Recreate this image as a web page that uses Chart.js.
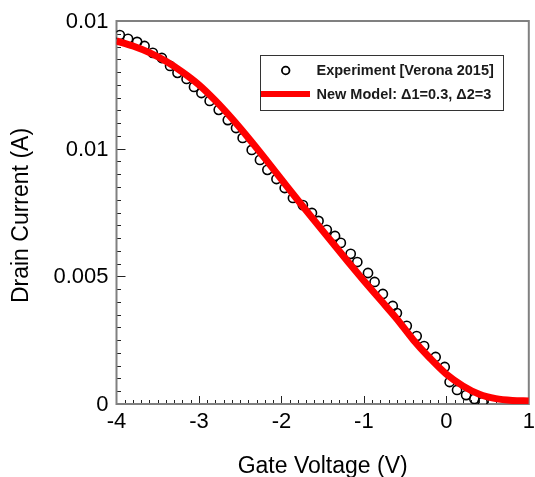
<!DOCTYPE html>
<html>
<head>
<meta charset="utf-8">
<title>Drain Current vs Gate Voltage</title>
<script src="https://cdn.jsdelivr.net/npm/chart.js@4"></script>
<style>
  html, body { margin: 0; padding: 0; background: #ffffff; }
  #wrap { width: 535px; height: 477px; }
</style>
</head>
<body>
<div id="wrap"><canvas id="chart" width="535" height="477"></canvas></div>
<script>
// Measured transfer characteristic (Verona 2015): gate voltage in V, drain current in A
const expGateVoltage = [
  -3.96, -3.86, -3.75, -3.66, -3.56, -3.45, -3.35, -3.26, -3.15, -3.06,
  -2.97, -2.87, -2.76, -2.65, -2.55, -2.47, -2.36, -2.26, -2.17, -2.06,
  -1.96, -1.86, -1.74, -1.63, -1.55, -1.45, -1.35, -1.28, -1.16, -1.08,
  -0.95, -0.87, -0.77, -0.65, -0.60, -0.48, -0.36, -0.27, -0.13, -0.02,
   0.04,  0.13,  0.24,  0.34,  0.44
];
const expDrainCurrent = [
  0.01445, 0.01430, 0.01418, 0.01402, 0.01375, 0.01355, 0.01324, 0.01297, 0.01273, 0.01242,
  0.01218, 0.01187, 0.01152, 0.01112, 0.01081, 0.01042, 0.00995, 0.00956, 0.00917, 0.00881,
  0.00846, 0.00807, 0.00779, 0.00748, 0.00717, 0.00682, 0.00658, 0.00631, 0.00588, 0.00556,
  0.00513, 0.00478, 0.00431, 0.00384, 0.00356, 0.00306, 0.00266, 0.00227, 0.00184, 0.00145,
  0.00086, 0.00055, 0.00035, 0.00020, 0.00008
];

// Model curve (Δ1 = 0.3, Δ2 = 3)
const modelGateVoltage = [
  -4.0, -3.8, -3.6, -3.4, -3.2, -3.0, -2.8, -2.6, -2.4, -2.2,
  -2.0, -1.8, -1.6, -1.4, -1.2, -1.0, -0.8, -0.6, -0.4, -0.2,
   0.0,  0.2,  0.4,  0.6,  0.8,  1.0
];
const modelDrainCurrent = [
  0.01422, 0.01402, 0.01376, 0.01342, 0.01300, 0.01250, 0.01188, 0.01118, 0.01042, 0.00962,
  0.00880, 0.00798, 0.00718, 0.00639, 0.00560, 0.00483, 0.00408, 0.00333, 0.00251, 0.00180,
  0.00117, 0.00071, 0.00038, 0.00021, 0.00014, 0.00012
];

// Axis ticks and their printed labels
const xTickValues = [-4, -3, -2, -1, 0, 1];
const xTickLabels = ['-4', '-3', '-2', '-1', '0', '1'];
const yTickValues = [0, 0.005, 0.01, 0.015];
const yTickLabels = ['0', '0.005', '0.01', '0.01'];

const xTitle = 'Gate Voltage (V)';
const yTitle = 'Drain Current (A)';
const legendExp = 'Experiment [Verona 2015]';
const legendModel = 'New Model: \u03941=0.3, \u03942=3';

const FONT = '"Liberation Sans", Arial, Helvetica, sans-serif';

const toPoints = (xs, ys) => xs.map((x, i) => ({ x: x, y: ys[i] }));

// Frame, inward ticks, tick labels, axis titles and legend
const axesPlugin = {
  id: 'framedAxes',
  beforeDatasetsDraw(chart) {
    const { ctx, chartArea: a, scales: { x, y } } = chart;
    ctx.save();
    // minor + major ticks pointing into the plot
    ctx.strokeStyle = '#222';
    ctx.lineWidth = 1;
    ctx.beginPath();
    for (let k = 1; k < 50; k++) {
      const v = -4 + k * 0.1;
      const px = Math.round(x.getPixelForValue(v)) + 0.5;
      const len = (k % 10 === 0) ? 8 : 4;
      ctx.moveTo(px, a.bottom);
      ctx.lineTo(px, a.bottom - len);
    }
    for (let k = 1; k < 30; k++) {
      const v = k * 0.0005;
      const py = Math.round(y.getPixelForValue(v)) + 0.5;
      const len = (k % 10 === 0) ? 9 : 4.5;
      ctx.moveTo(a.left, py);
      ctx.lineTo(a.left + len, py);
    }
    ctx.stroke();
    // plot frame
    ctx.strokeStyle = '#808080';
    ctx.lineWidth = 2;
    ctx.strokeRect(a.left, a.top, a.right - a.left, a.bottom - a.top);
    ctx.restore();
  },
  afterDraw(chart) {
    const { ctx, chartArea: a, scales: { x, y } } = chart;
    ctx.save();
    ctx.fillStyle = '#000';
    ctx.font = '22px ' + FONT;
    // x tick labels
    ctx.textAlign = 'center';
    ctx.textBaseline = 'alphabetic';
    xTickValues.forEach((v, i) => {
      ctx.fillText(xTickLabels[i], x.getPixelForValue(v), 428);
    });
    // y tick labels
    ctx.textAlign = 'right';
    ctx.textBaseline = 'middle';
    yTickValues.forEach((v, i) => {
      ctx.fillText(yTickLabels[i], a.left - 8, y.getPixelForValue(v) + 1);
    });
    // axis titles
    ctx.font = '23px ' + FONT;
    ctx.textAlign = 'center';
    ctx.textBaseline = 'alphabetic';
    ctx.fillText(xTitle, (a.left + a.right) / 2, 473);
    ctx.save();
    ctx.translate(28, (a.top + a.bottom) / 2 + 3);
    ctx.rotate(-Math.PI / 2);
    ctx.fillText(yTitle, 0, 0);
    ctx.restore();

    // legend box
    const bx = 260, by = 55, bw = 243, bh = 55;
    ctx.fillStyle = '#fff';
    ctx.fillRect(bx, by, bw, bh);
    ctx.strokeStyle = '#333';
    ctx.lineWidth = 1;
    ctx.strokeRect(bx + 0.5, by + 0.5, bw, bh);
    // experiment marker
    ctx.strokeStyle = '#000';
    ctx.lineWidth = 1.8;
    ctx.beginPath();
    ctx.arc(285.7, 70.5, 3.8, 0, Math.PI * 2);
    ctx.stroke();
    // model line sample
    ctx.strokeStyle = '#ff0000';
    ctx.lineWidth = 6;
    ctx.beginPath();
    ctx.moveTo(261, 94);
    ctx.lineTo(310, 94);
    ctx.stroke();
    ctx.fillStyle = '#1a1a1a';
    ctx.font = 'bold 14.5px ' + FONT;
    ctx.textAlign = 'left';
    ctx.textBaseline = 'middle';
    ctx.fillText(legendExp, 316.5, 70.5);
    ctx.fillText(legendModel, 316.5, 94.5);
    ctx.restore();
  }
};

new Chart(document.getElementById('chart'), {
  type: 'scatter',
  data: {
    datasets: [
      {
        label: legendModel,
        data: toPoints(modelGateVoltage, modelDrainCurrent),
        showLine: true,
        borderColor: '#ff0000',
        backgroundColor: '#ff0000',
        borderWidth: 7,
        pointRadius: 0,
        cubicInterpolationMode: 'monotone',
        order: 0
      },
      {
        label: legendExp,
        data: toPoints(expGateVoltage, expDrainCurrent),
        showLine: false,
        pointStyle: 'circle',
        pointRadius: 4.6,
        pointBorderWidth: 1.6,
        pointBorderColor: '#000',
        pointBackgroundColor: 'rgba(0,0,0,0)',
        order: 1
      }
    ]
  },
  options: {
    responsive: false,
    devicePixelRatio: 1,
    animation: false,
    layout: { padding: { left: 0, top: 21, right: 5.5, bottom: 0 } },
    plugins: {
      legend: { display: false },
      tooltip: { enabled: false }
    },
    scales: {
      x: {
        type: 'linear',
        min: -4,
        max: 1,
        ticks: { display: false },
        grid: { display: false },
        border: { display: false },
        afterFit(scale) { scale.height = 73; }
      },
      y: {
        type: 'linear',
        min: 0,
        max: 0.015,
        ticks: { display: false },
        grid: { display: false },
        border: { display: false },
        afterFit(scale) { scale.width = 116.5; }
      }
    }
  },
  plugins: [axesPlugin]
});
</script>
</body>
</html>
